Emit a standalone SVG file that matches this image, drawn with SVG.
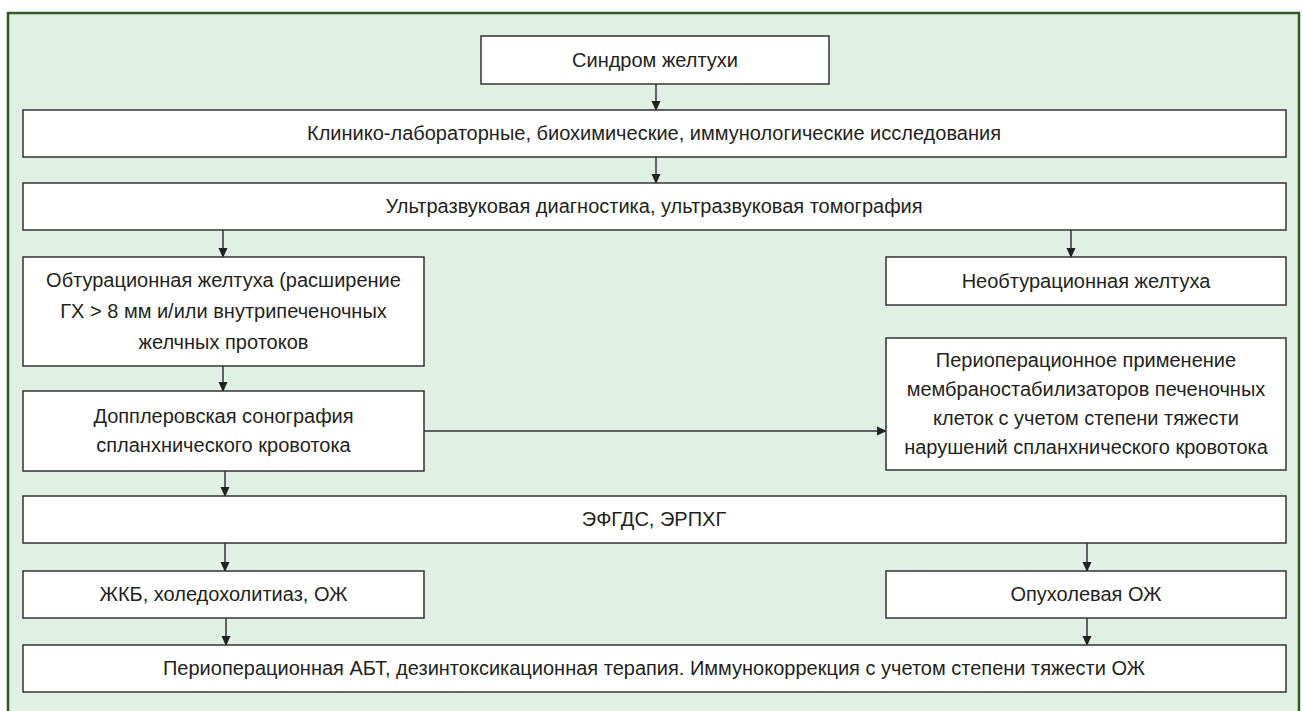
<svg xmlns="http://www.w3.org/2000/svg" width="1303" height="711" viewBox="0 0 1303 711">
<style>
.frame{fill:#e1f0e5;stroke:#2f5c1c;stroke-width:2.5}
.box{fill:#ffffff;stroke:#333333;stroke-width:1.5}
.t{font-family:"Liberation Sans",Arial,sans-serif;font-size:20px;fill:#231f20;text-anchor:middle}
.c{stroke:#333333;stroke-width:1.5;fill:none;marker-end:url(#ah)}
</style>
<defs>
<marker id="ah" markerWidth="10" markerHeight="10" refX="9" refY="5" orient="auto" markerUnits="userSpaceOnUse">
<path d="M0,0.5 L10,5 L0,9.5 Z" fill="#222222"/>
</marker>
</defs>
<rect class="frame" x="8" y="13" width="1291" height="710"/>
<g id="connectors">
<line class="c" x1="656" y1="84" x2="656" y2="110"/>
<line class="c" x1="656" y1="157" x2="656" y2="183"/>
<line class="c" x1="223" y1="230" x2="223" y2="257"/>
<line class="c" x1="1071" y1="230" x2="1071" y2="257"/>
<line class="c" x1="223" y1="366" x2="223" y2="391"/>
<line class="c" x1="424" y1="431" x2="886" y2="431"/>
<line class="c" x1="225" y1="471" x2="225" y2="496"/>
<line class="c" x1="225" y1="543" x2="225" y2="571"/>
<line class="c" x1="1087" y1="543" x2="1087" y2="571"/>
<line class="c" x1="226" y1="618" x2="226" y2="645"/>
<line class="c" x1="1087" y1="618" x2="1087" y2="645"/>
</g>
<g id="n1"><rect class="box" x="481" y="36" width="348" height="48"/><text class="t" x="655" y="67">Синдром желтухи</text></g>
<g id="n2"><rect class="box" x="23" y="110" width="1263" height="47"/><text class="t" x="654" y="140">Клинико-лабораторные, биохимические, иммунологические исследования</text></g>
<g id="n3"><rect class="box" x="23" y="183" width="1263" height="47"/><text class="t" x="654" y="213">Ультразвуковая диагностика, ультразвуковая томография</text></g>
<g id="n4"><rect class="box" x="23" y="257" width="401" height="109"/><text class="t" x="223.5" y="287">Обтурационная желтуха (расширение</text><text class="t" x="223.5" y="318">ГХ &gt; 8 мм и/или внутрипеченочных</text><text class="t" x="223.5" y="349">желчных протоков</text></g>
<g id="n5"><rect class="box" x="886" y="257" width="400" height="48"/><text class="t" x="1086" y="288">Необтурационная желтуха</text></g>
<g id="n6"><rect class="box" x="23" y="391" width="401" height="80"/><text class="t" x="223.5" y="423">Допплеровская сонография</text><text class="t" x="223.5" y="452">спланхнического кровотока</text></g>
<g id="n7"><rect class="box" x="886" y="338" width="400" height="132"/><text class="t" x="1086" y="367">Периоперационное применение</text><text class="t" x="1086" y="396">мембраностабилизаторов печеночных</text><text class="t" x="1086" y="425">клеток с учетом степени тяжести</text><text class="t" x="1086" y="454">нарушений спланхнического кровотока</text></g>
<g id="n8"><rect class="box" x="23" y="496" width="1263" height="47"/><text class="t" x="654" y="526">ЭФГДС, ЭРПХГ</text></g>
<g id="n9"><rect class="box" x="23" y="571" width="401" height="47"/><text class="t" x="223.5" y="601">ЖКБ, холедохолитиаз, ОЖ</text></g>
<g id="n10"><rect class="box" x="886" y="571" width="400" height="47"/><text class="t" x="1086" y="601">Опухолевая ОЖ</text></g>
<g id="n11"><rect class="box" x="23" y="645" width="1263" height="47"/><text class="t" x="654" y="675">Периоперационная АБТ, дезинтоксикационная терапия. Иммунокоррекция с учетом степени тяжести ОЖ</text></g>
</svg>
